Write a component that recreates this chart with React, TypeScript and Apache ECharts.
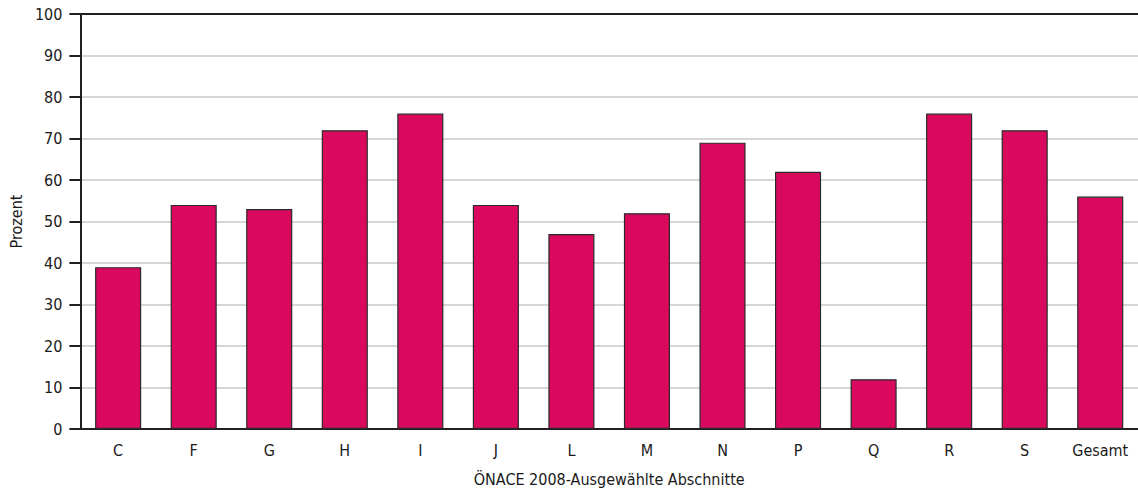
import React, { useEffect, useRef } from "react";
import * as echarts from "echarts";

const categories = ["C", "F", "G", "H", "I", "J", "L", "M", "N", "P", "Q", "R", "S", "Gesamt"];
const values = [39, 54, 53, 72, 76, 54, 47, 52, 69, 62, 12, 76, 72, 56];
const yTicks = { min: 0, max: 100, interval: 10 };

const FONT = "DejaVu Sans Condensed";

export default function App() {
  const ref = useRef<HTMLDivElement>(null);
  useEffect(() => {
    const chart = echarts.init(ref.current!, null, { renderer: "svg" });
    chart.setOption({
      animation: false,
      backgroundColor: "#ffffff",
      textStyle: { fontFamily: FONT },
      grid: { left: 80, top: 14, right: 0, bottom: 62, containLabel: false },
      xAxis: [
        {
          type: "category",
          data: categories,
          name: "ÖNACE 2008-Ausgewählte Abschnitte",
          nameLocation: "middle",
          nameGap: 42,
          nameTextStyle: { fontFamily: FONT, fontSize: 16, color: "#1a1a1a" },
          axisLine: { lineStyle: { color: "#231f20", width: 2 } },
          axisTick: { show: false },
          axisLabel: { fontFamily: FONT, fontSize: 16, color: "#1a1a1a", margin: 13 },
        },
        {
          type: "category",
          data: categories,
          position: "top",
          axisLine: { show: true, lineStyle: { color: "#231f20", width: 2 } },
          axisTick: { show: false },
          axisLabel: { show: false },
        },
      ],
      yAxis: {
        type: "value",
        min: yTicks.min,
        max: yTicks.max,
        interval: yTicks.interval,
        name: "Prozent",
        nameLocation: "middle",
        nameGap: 55,
        nameTextStyle: { fontFamily: FONT, fontSize: 16, color: "#1a1a1a" },
        axisLine: { show: true, lineStyle: { color: "#231f20", width: 2 } },
        axisTick: { show: true, inside: false, length: 11, lineStyle: { color: "#231f20", width: 2 } },
        axisLabel: { fontFamily: FONT, fontSize: 16, color: "#1a1a1a", margin: 18 },
        splitLine: { lineStyle: { color: "#c8c8c8", width: 1.5 } },
      },
      series: [
        {
          type: "bar",
          data: values,
          barWidth: "61%",
          itemStyle: { color: "#d90a5e", borderColor: "#2a2a2a", borderWidth: 1.2 },
        },
      ],
    });
    return () => chart.dispose();
  }, []);
  return (
    <div
      ref={ref}
      style={{ position: "fixed", left: 0, top: 0, width: 1138, height: 492 }}
    />
  );
}
